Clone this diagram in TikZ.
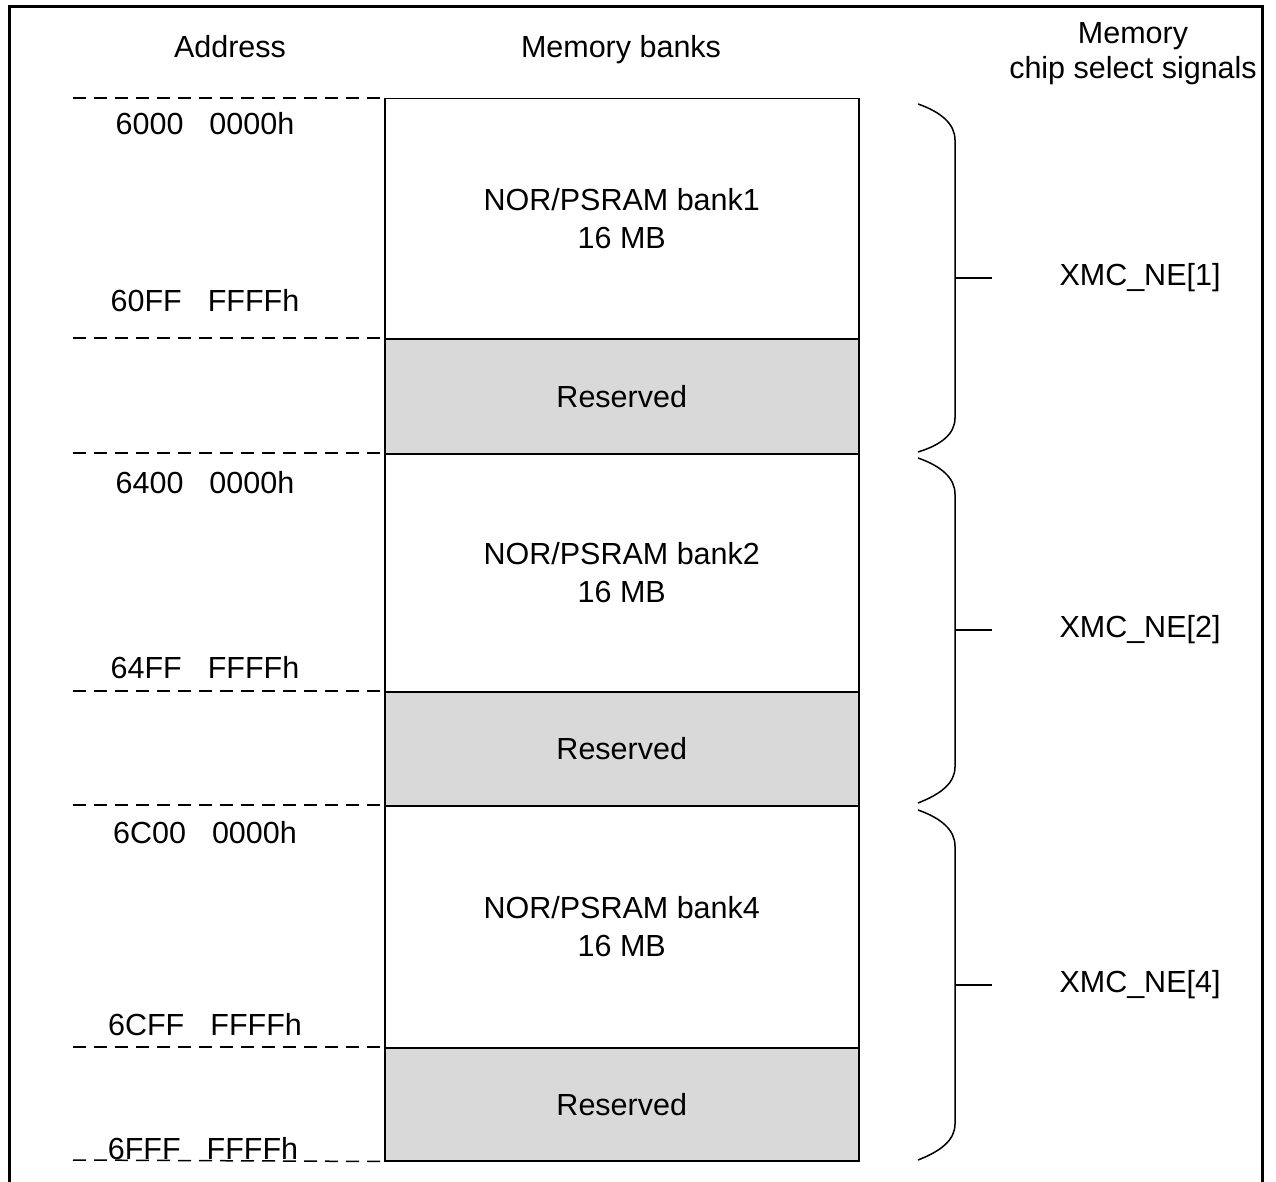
\documentclass[tikz,border=0pt]{standalone}
\usepackage{fontspec}
\setmainfont{Liberation Sans}
\begin{document}
\begin{tikzpicture}[x=1pt,y=-1pt,
  txt/.style={font=\fontsize{30.5}{38}\selectfont, inner sep=0pt},
  addr/.style={txt, anchor=base},
  bank/.style={draw, line width=1.5pt, anchor=north west, minimum width=474pt,
    inner sep=0pt, align=center, font=\fontsize{30.5}{38}\selectfont},
  resv/.style={bank, fill=gray!30},
  dashline/.style={line width=1.5pt, dash pattern=on 13pt off 8pt},
  brace/.style={line width=1.5pt},
  frameline/.style={line width=3pt}]
\useasboundingbox (0,0) rectangle (1276,1182);
% outer frame (open at bottom)
\draw[frameline] (9.5,1182) -- (9.5,7) -- (1262,7) -- (1262,1182);
% headers
\node[addr] (hA) at (230,58) {Address};
\node[addr] (hM) at (621,58) {Memory banks};
\node[addr] (hS1) at (1133,44) {Memory};
\node[addr] (hS2) at (1133,79) {chip select signals};
% memory banks
\node[bank, minimum height=240pt] (b1) at (384,98) {NOR/PSRAM bank1\\16 MB};
\node[resv, minimum height=115pt] (r1) at (384,338) {Reserved};
\node[bank, minimum height=238pt] (b2) at (384,453) {NOR/PSRAM bank2\\16 MB};
\node[resv, minimum height=114pt] (r2) at (384,691) {Reserved};
\node[bank, minimum height=242pt] (b4) at (384,805) {NOR/PSRAM bank4\\16 MB};
\node[resv, minimum height=113pt] (r4) at (384,1047) {Reserved};
% dashed address lines
\coordinate (d1) at (73,98);
\coordinate (d2) at (73,338);
\coordinate (d3) at (73,453);
\coordinate (d4) at (73,691);
\coordinate (d5) at (73,805);
\coordinate (d6) at (73,1047);
\coordinate (d7) at (73,1160);
\draw[dashline] (d1) -- (b1.north west);
\draw[dashline] (d2) -- (r1.north west);
\draw[dashline] (d3) -- (b2.north west);
\draw[dashline] (d4) -- (r2.north west);
\draw[dashline] (d5) -- (b4.north west);
\draw[dashline] (d6) -- (r4.north west);
% addresses
\node[addr] (a1) at (205,135) {6000\hspace{26pt}0000h};
\node[addr] (a2) at (205,311) {60FF\hspace{26pt}FFFFh};
\node[addr] (a3) at (205,493) {6400\hspace{26pt}0000h};
\node[addr] (a4) at (205,678) {64FF\hspace{26pt}FFFFh};
\node[addr] (a5) at (205,843) {6C00\hspace{26pt}0000h};
\node[addr] (a6) at (205,1035) {6CFF\hspace{26pt}FFFFh};
\node[addr] (a7) at (203,1159) {6FFF\hspace{26pt}FFFFh};
\draw[dashline] (d7) -- (r4.south west);
% braces
\draw[brace] (918,104) .. controls (941,112) and (955,124) .. (955,140) -- (955,418)
  .. controls (955,434) and (941,445) .. (918,452);
\draw[brace] (918,458) .. controls (941,466) and (955,478) .. (955,494) -- (955,767)
  .. controls (955,783) and (941,794) .. (918,803);
\draw[brace] (918,810) .. controls (941,818) and (955,830) .. (955,846) -- (955,1124)
  .. controls (955,1140) and (941,1151) .. (918,1160);
% brace ticks and signal names
\coordinate (t1) at (955,278);
\coordinate (t2) at (955,630);
\coordinate (t3) at (955,985);
\node[txt] (s1) at (1140,278) {XMC\_NE[1]};
\node[txt] (s2) at (1140,630) {XMC\_NE[2]};
\node[txt] (s4) at (1140,985) {XMC\_NE[4]};
\draw[brace] (t1) -- ++(37,0);
\draw[brace] (t2) -- ++(37,0);
\draw[brace] (t3) -- ++(37,0);
\end{tikzpicture}
\end{document}
